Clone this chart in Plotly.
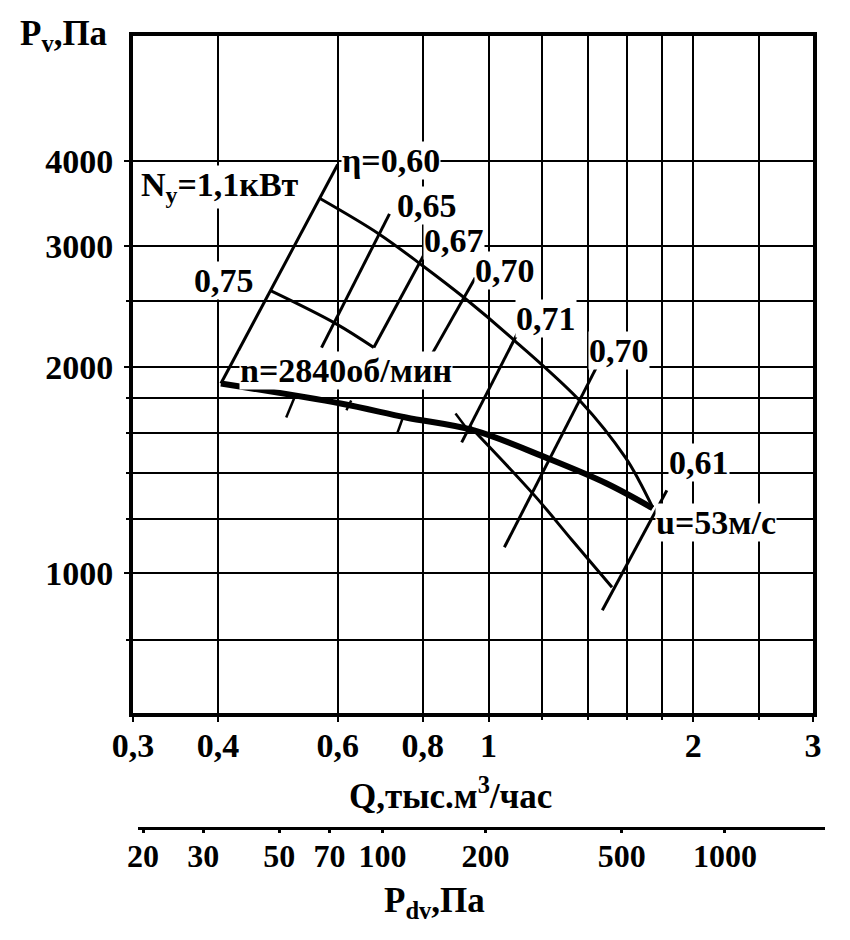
import numpy as np
import plotly.graph_objects as go

# axis grid / tick values
q_ticks = [0.3, 0.4, 0.6, 0.8, 1, 2, 3]
q_labels = ["0,3", "0,4", "0,6", "0,8", "1", "2", "3"]
q_minor = [1.2, 1.4, 1.6, 1.8, 2.5]
p_ticks = [1000, 2000, 3000, 4000]
p_labels = ["1000", "2000", "3000", "4000"]
p_minor = [800, 1200, 1400, 1600, 1800, 2500]
pdv_ticks = [20, 30, 50, 70, 100, 200, 500, 1000]
pdv_labels = ["20", "30", "50", "70", "100", "200", "500", "1000"]

# P-Q characteristic (upper curve)
pq_q = [0.566, 0.689, 0.80, 0.920, 1.092, 1.370, 1.589, 1.664, 1.743]
pq_p = [3521, 3131, 2811, 2526, 2186, 1775, 1476, 1366, 1248]

# thick line n=2840 об/мин .. u=53 м/с
thick_q = [0.404, 0.606, 0.756, 0.952, 1.222, 1.489, 1.743]
thick_p = [1892, 1769, 1688, 1616, 1471, 1353, 1244]

# lower boundary pieces
low1_q = [0.478, 0.596, 0.678]
low1_p = [2585, 2314, 2135]
low2_q = [0.936, 1.168, 1.327, 1.519]
low2_p = [1643, 1299, 1117, 954]

# efficiency lines
eta60_q, eta60_p = [0.404, 0.600], [1892, 3950]
eta65_q, eta65_p = [0.568, 0.715], [2135, 3347]
eta67_q, eta67_p = [0.678, 0.814], [2135, 2987]
eta70a_q, eta70a_p = [0.828, 0.956], [2099, 2700]
eta71_q, eta71_p = [0.913, 1.114], [1552, 2284]
eta70b_q, eta70b_p = [1.055, 1.441], [1091, 1997]
eta61_q, eta61_p = [1.470, 1.829], [883, 1321]

# small marks on the thick line
mark_q = [[0.504, 0.519], [0.618, 0.628], [0.734, 0.751], [0.894, 0.929]]
mark_p = [[1688, 1811], [1729, 1787], [1600, 1705], [1711, 1627]]

# text labels (left edge, vertical centre)
label_text = ["η=0,60", "N<sub>y</sub>=1,1кВт", "0,65", "0,67", "0,70", "0,71",
              "0,70", "0,61", "u=53м/с", "0,75", "n=2840об/мин"]
label_q = [0.606, 0.307, 0.732, 0.80, 0.952, 1.092, 1.40, 1.835, 1.756, 0.367, 0.430]
label_p = [4000, 3666, 3440, 3058, 2765, 2353, 2113, 1451, 1187, 2674, 1977]

FONT = "Liberation Serif"
fig = go.Figure()


def add_line(q, p, w=3, smooth=False):
    fig.add_trace(go.Scatter(x=q, y=p, mode="lines",
                             line=dict(color="black", width=w,
                                       shape="spline" if smooth else "linear"),
                             showlegend=False, hoverinfo="skip"))


add_line(pq_q, pq_p, smooth=True)
add_line(thick_q, thick_p, w=6, smooth=True)
add_line(low1_q, low1_p, smooth=True)
add_line(low2_q, low2_p, smooth=True)
for q, p in [(eta60_q, eta60_p), (eta65_q, eta65_p), (eta67_q, eta67_p),
             (eta70a_q, eta70a_p), (eta71_q, eta71_p), (eta70b_q, eta70b_p),
             (eta61_q, eta61_p)]:
    add_line(q, p)
for q, p in zip(mark_q, mark_p):
    add_line(q, p, w=2.5)

# dummy trace so the Pdv scale is drawn
fig.add_trace(go.Scatter(x=[20, 1000], y=[1, 1], xaxis="x2", yaxis="y2",
                         mode="markers", marker=dict(opacity=0),
                         showlegend=False, hoverinfo="skip"))

for t, q, p in zip(label_text, label_q, label_p):
    fig.add_annotation(x=np.log10(q), y=np.log10(p), xref="x", yref="y",
                       text="<b>" + t + "</b>", showarrow=False,
                       xanchor="left", yanchor="middle", bgcolor="white",
                       borderpad=0, font=dict(family=FONT, size=34, color="black"))

# axis titles
titles = [("<b>P<sub>v</sub>,Па</b>", -0.165, 1.001, "left"),
          ("<b>Q,тыс.м<sup>3</sup>/час</b>", 0.455, 0.070, "center"),
          ("<b>P<sub>dv</sub>,Па</b>", 0.432, -0.065, "center")]
for t, x, y, xa in titles:
    fig.add_annotation(x=x, y=y, xref="paper", yref="paper", text=t,
                       showarrow=False, xanchor=xa, yanchor="middle",
                       font=dict(family=FONT, size=35, color="black"))

axis_common = dict(type="log", showgrid=True, gridcolor="black", gridwidth=2,
                   showline=True, linecolor="black", linewidth=4, mirror=True,
                   ticks="outside", ticklen=5, tickwidth=2, tickcolor="black",
                   zeroline=False,
                   tickfont=dict(family=FONT, size=34, color="black", weight="bold"))
minor_common = dict(showgrid=True, gridcolor="black", gridwidth=2,
                    ticks="outside", ticklen=3, tickwidth=2, tickcolor="black")

fig.update_layout(
    width=842, height=932,
    margin=dict(l=125, r=20, t=28, b=90),
    paper_bgcolor="white", plot_bgcolor="white",
    font=dict(family=FONT, color="black"),
    xaxis=dict(axis_common, domain=[0, 0.97561],
               range=[np.log10(0.3), np.log10(3)],
               tickmode="array", tickvals=q_ticks, ticktext=q_labels,
               minor=dict(minor_common, tickmode="array", tickvals=q_minor),
               ticklabelstandoff=-6),
    yaxis=dict(axis_common, domain=[0.1683, 1],
               range=[np.log10(625), np.log10(6085)],
               tickmode="array", tickvals=p_ticks, ticktext=p_labels,
               minor=dict(minor_common, tickmode="array", tickvals=p_minor),
               ticklabelstandoff=4),
    xaxis2=dict(type="log", anchor="free", position=0.027,
                domain=[0.00717, 0.99283], range=[1.2864, 3.292],
                showgrid=False, zeroline=False, showline=True,
                linecolor="black", linewidth=2.5,
                ticks="outside", ticklen=3, tickwidth=3, tickcolor="black",
                tickmode="array", tickvals=pdv_ticks, ticktext=pdv_labels,
                ticklabelstandoff=-4,
                tickfont=dict(family=FONT, size=32, color="black", weight="bold")),
    yaxis2=dict(domain=[0, 0.01], anchor="x2", visible=False),
)

fig.write_html("out.html")
